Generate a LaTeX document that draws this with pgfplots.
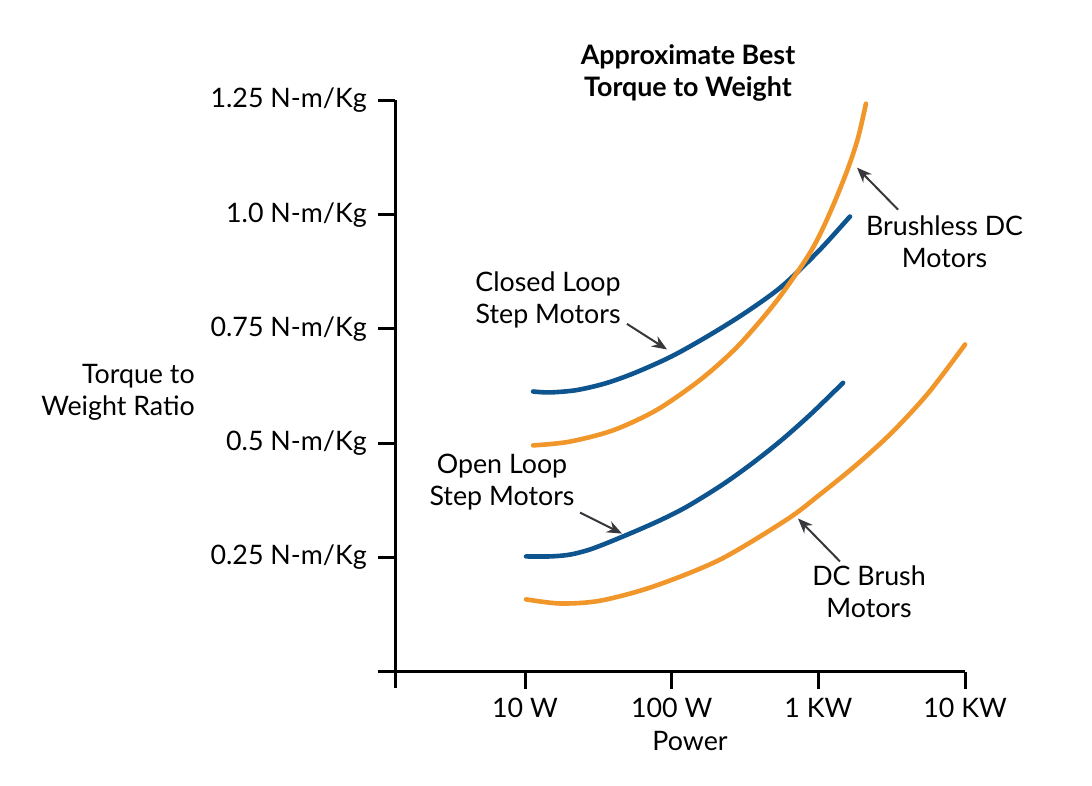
\documentclass[border=0pt]{standalone}
\usepackage{fontspec}
\setmainfont{Lato}
\usepackage{pgfplots}
\pgfplotsset{compat=1.18}
\usetikzlibrary{arrows.meta}
\definecolor{motorblue}{RGB}{14,84,142}
\definecolor{motororange}{RGB}{240,150,42}
\definecolor{arrowgray}{RGB}{55,55,60}

\newcommand{\chartfont}{\fontsize{13.4bp}{16bp}\selectfont}

\begin{document}
\chartfont
\begin{tikzpicture}
\begin{axis}[
    scale only axis,
    width=285bp, height=285.5bp,
    xmin=0.114, xmax=4,
    ymin=0, ymax=1.25,
    axis x line*=bottom,
    axis y line*=left,
    axis line style={line width=1.5bp},
    tick style={line width=1.5bp, black},
    tick align=outside,
    major tick length=8.5bp,
    xtick={1,2,3,4},
    xticklabels={10 W, 100 W, 1 KW, 10 KW},
    ytick={0.25,0.5,0.75,1,1.25},
    yticklabels={0.25 N-m/Kg, 0.5 N-m/Kg, 0.75 N-m/Kg, 1.0 N-m/Kg, 1.25 N-m/Kg},
    xticklabel style={font=\chartfont},
    yticklabel style={font=\chartfont, xshift=-1bp},
    clip=false,
]
% extend the axis lines past the origin
\draw[line width=1.5bp] (axis cs:0,0) -- (axis cs:0.114,0);
\draw[line width=1.5bp] (axis cs:0.114,0) -- (axis cs:0.114,-0.037);

% closed loop step motors
\addplot[motorblue, line width=2.3bp, line cap=round, smooth] coordinates {
    (1.055,0.613) (1.17,0.611) (1.35,0.616) (1.55,0.631) (1.75,0.654)
    (2.0,0.690) (2.25,0.735) (2.5,0.785) (2.75,0.843) (3.0,0.920) (3.215,0.996)
};
% brushless DC motors
\addplot[motororange, line width=2.3bp, line cap=round, smooth] coordinates {
    (1.055,0.495) (1.3,0.503) (1.6,0.528) (1.9,0.573) (2.2,0.640)
    (2.45,0.712) (2.7,0.805) (2.9,0.895) (3.0,0.950) (3.1,1.020)
    (3.2,1.100) (3.27,1.168) (3.324,1.243)
};
% open loop step motors
\addplot[motorblue, line width=2.3bp, line cap=round, smooth] coordinates {
    (1.007,0.252) (1.17,0.252) (1.307,0.256) (1.45,0.268) (1.648,0.293)
    (1.9,0.328) (2.104,0.361) (2.35,0.410) (2.554,0.457) (2.75,0.507)
    (2.95,0.564) (3.168,0.632)
};
% DC brush motors
\addplot[motororange, line width=2.3bp, line cap=round, smooth] coordinates {
    (1.007,0.158) (1.239,0.149) (1.511,0.155) (1.873,0.186) (2.329,0.245)
    (2.786,0.333) (3.0,0.385) (3.25,0.450) (3.5,0.523) (3.75,0.610) (4.0,0.716)
};

% labels
\node[font=\bfseries, align=center] at (axis cs:2.111,1.311) {Approximate Best\\Torque to Weight};
\node at (axis cs:2.125,-0.153) {Power};
\node[anchor=east, align=right, inner sep=0pt] at (axis cs:-1.249,0.611) {Torque to\\Weight Ratio};

\node[align=center] at (axis cs:1.157,0.814) {Closed Loop\\Step Motors};
\node[align=center] at (axis cs:0.843,0.414) {Open Loop\\Step Motors};
\node[align=center] at (axis cs:3.860,0.941) {Brushless DC\\Motors};
\node[align=center] at (axis cs:3.345,0.175) {DC Brush\\Motors};

\begin{scope}[arrowgray, line width=1bp, -{Stealth[length=7.5bp,width=6bp]}]
\draw (axis cs:1.695,0.761) -- (axis cs:1.968,0.705);
\draw (axis cs:1.375,0.348) -- (axis cs:1.661,0.302);
\draw (axis cs:3.543,1.011) -- (axis cs:3.263,1.103);
\draw (axis cs:3.147,0.241) -- (axis cs:2.861,0.335);
\end{scope}

% page extent
\path (axis cs:-2.579,-0.2495) rectangle (axis cs:4.865,1.470);
\end{axis}
\end{tikzpicture}
\end{document}
